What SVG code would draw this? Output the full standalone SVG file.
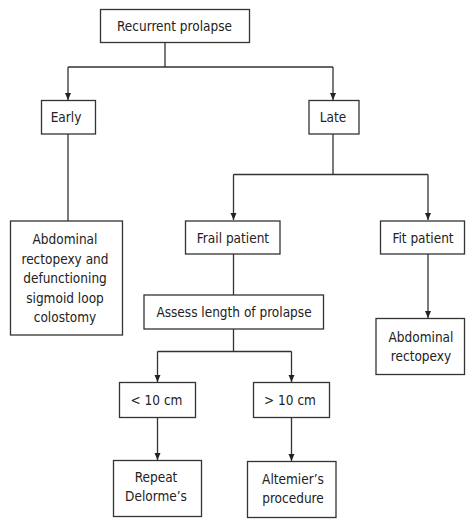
<svg xmlns="http://www.w3.org/2000/svg" width="474" height="527" viewBox="0 0 474 527">
<style>
.box{fill:#fff;stroke:#333;stroke-width:1.3}
.ln{fill:none;stroke:#333;stroke-width:1.3}
text{font-family:"DejaVu Sans Condensed","DejaVu Sans",sans-serif;font-size:13.5px;fill:#222;text-anchor:middle}
</style>
<defs>
<marker id="ah" markerWidth="8" markerHeight="8" refX="7" refY="4" orient="auto" markerUnits="userSpaceOnUse">
<path d="M0,1 L7,4 L0,7 Z" fill="#222"/>
</marker>
</defs>
<rect width="474" height="527" fill="#fff"/>
<g id="connectors">
<path class="ln" d="M165,43 V67 M68,67 H333"/>
<path class="ln" d="M68,67 V100" marker-end="url(#ah)"/>
<path class="ln" d="M333,67 V100" marker-end="url(#ah)"/>
<path class="ln" d="M68,134 V221"/>
<path class="ln" d="M333,134 V174.5 M233.5,174.5 H428"/>
<path class="ln" d="M233.5,174.5 V220" marker-end="url(#ah)"/>
<path class="ln" d="M428,174.5 V220" marker-end="url(#ah)"/>
<path class="ln" d="M233.5,254 V295"/>
<path class="ln" d="M428,254 V318" marker-end="url(#ah)"/>
<path class="ln" d="M233.5,329 V351.5 M157.5,351.5 H291.5"/>
<path class="ln" d="M157.5,351.5 V382" marker-end="url(#ah)"/>
<path class="ln" d="M291.5,351.5 V382" marker-end="url(#ah)"/>
<path class="ln" d="M157.5,417 V460" marker-end="url(#ah)"/>
<path class="ln" d="M291.5,417 V461" marker-end="url(#ah)"/>
</g>
<g id="recurrent"><rect class="box" x="100.5" y="9.5" width="149" height="33"/><text x="174.5" y="30.5">Recurrent prolapse</text></g>
<g id="early"><rect class="box" x="41.5" y="100.5" width="54" height="33.5"/><text x="66" y="122">Early</text></g>
<g id="late"><rect class="box" x="309" y="100.5" width="50" height="33.5"/><text x="333" y="121.5">Late</text></g>
<g id="abdominal-defunctioning"><rect class="box" x="10.5" y="221" width="112" height="114"/>
<text x="65" y="244">Abdominal</text><text x="65" y="263.5">rectopexy and</text><text x="65" y="283">defunctioning</text><text x="65" y="302.5">sigmoid loop</text><text x="65" y="322">colostomy</text></g>
<g id="frail"><rect class="box" x="185.5" y="221" width="94.5" height="33"/><text x="233" y="243">Frail patient</text></g>
<g id="fit"><rect class="box" x="380.5" y="221" width="84" height="33"/><text x="423" y="243">Fit patient</text></g>
<g id="assess"><rect class="box" x="144" y="295" width="179.5" height="34"/><text x="234" y="317">Assess length of prolapse</text></g>
<g id="abdominal-rectopexy"><rect class="box" x="376" y="318.5" width="88.5" height="56"/><text x="421" y="341.5">Abdominal</text><text x="421" y="361">rectopexy</text></g>
<g id="lt10"><rect class="box" x="119.5" y="382.5" width="76" height="35"/><text x="156.5" y="405">&lt; 10 cm</text></g>
<g id="gt10"><rect class="box" x="253.5" y="382.5" width="76" height="35"/><text x="290" y="404.5">&gt; 10 cm</text></g>
<g id="repeat"><rect class="box" x="113.5" y="460.5" width="88" height="56"/><text x="156" y="481.5">Repeat</text><text x="156" y="500.5">Delorme’s</text></g>
<g id="altemier"><rect class="box" x="247.5" y="461.5" width="88.5" height="56"/><text x="293" y="483.5">Altemier’s</text><text x="293" y="503">procedure</text></g>
</svg>
